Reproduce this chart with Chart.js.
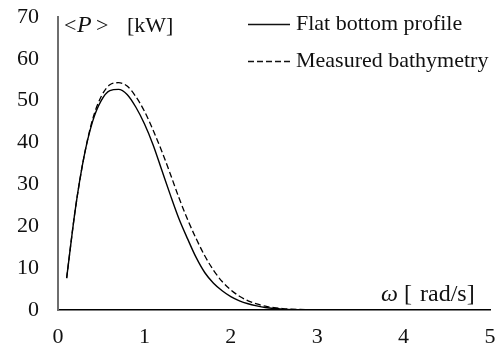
<!DOCTYPE html>
<html>
<head>
<meta charset="utf-8">
<script src="https://cdn.jsdelivr.net/npm/chart.js@4"></script>
<style>
  html, body { margin: 0; padding: 0; background: #fff; }
  #wrap { width: 498px; height: 350px; }
</style>
</head>
<body>
<div id="wrap"><canvas id="chart-power"></canvas></div>
<script>
// frequency [rad/s]
const omega = [0.1, 0.2, 0.3, 0.4, 0.5, 0.6, 0.7, 0.8, 0.9, 1.0,
  1.1, 1.2, 1.3, 1.4, 1.5, 1.6, 1.7, 1.8, 1.9, 2.0,
  2.1, 2.2, 2.3, 2.4, 2.5, 2.6, 2.8, 3.0, 3.5, 4.0];
// mean power [kW]
const flatBottom = [7.6, 24, 36.5, 45, 50, 52.4, 52.7, 51.5, 48.5, 44.5,
  39.5, 33.5, 27.5, 21.8, 17, 12.5, 8.9, 6.4, 4.6, 3.2,
  2.2, 1.5, 1.0, 0.6, 0.35, 0.2, 0.08, 0.04, 0.02, 0.01];
const measured = [7.6, 24, 36.5, 45.5, 51, 53.8, 54.3, 53.5, 51, 47.5,
  43, 38, 32.5, 26.8, 21.6, 17.0, 12.9, 9.5, 6.8, 4.8,
  3.3, 2.2, 1.45, 0.9, 0.55, 0.33, 0.12, 0.06, 0.03, 0.01];
const seriesNames = ["Flat bottom profile", "Measured bathymetry"];
const yTicks = [0, 10, 20, 30, 40, 50, 60, 70];
const xTicks = [0, 1, 2, 3, 4, 5];

const FONT = "Liberation Serif";
const toXY = (ys) => omega.map((x, i) => ({ x: x, y: ys[i] }));

function font(size, style) {
  return (style || "") + size + "px '" + FONT + "'";
}

// legend and axis titles sit inside the plot area, so draw them by hand
const annotations = {
  id: "annotations",
  afterDraw(chart) {
    const ctx = chart.ctx;
    ctx.save();
    ctx.fillStyle = "#111";
    ctx.strokeStyle = "#111";
    ctx.textBaseline = "alphabetic";

    // legend
    const rows = [30, 67];
    chart.data.datasets.forEach((ds, i) => {
      const y = rows[i] - 5.5;
      ctx.lineWidth = 1.3;
      ctx.setLineDash(ds.borderDash || []);
      ctx.beginPath();
      ctx.moveTo(248, y);
      ctx.lineTo(290, y);
      ctx.stroke();
      ctx.setLineDash([]);
      ctx.font = font(22);
      ctx.fillText(ds.label, 296, rows[i]);
    });

    // y title: <P> [kW]
    const yb = 32;
    ctx.font = font(22);
    ctx.fillText("<", 64, yb);
    ctx.font = font(24, "italic ");
    ctx.fillText("P", 77, yb);
    ctx.font = font(22);
    ctx.fillText(">", 96, yb);
    ctx.fillText("[kW]", 127, yb);

    // x title: ω [ rad/s]
    const xb = 301;
    ctx.font = font(24, "italic ");
    ctx.fillText("ω", 381, xb);
    ctx.font = font(24);
    ctx.fillText("[", 404, xb);
    ctx.fillText("rad/s]", 420, xb);
    ctx.restore();
  }
};

const ctx = document.getElementById("chart-power").getContext("2d");
new Chart(ctx, {
  type: "line",
  data: {
    datasets: [
      {
        label: seriesNames[0],
        data: toXY(flatBottom),
        borderColor: "#000",
        borderWidth: 1.4,
        pointRadius: 0,
        cubicInterpolationMode: "monotone",
        fill: false
      },
      {
        label: seriesNames[1],
        data: toXY(measured),
        borderColor: "#000",
        borderWidth: 1.3,
        borderDash: [6, 3],
        pointRadius: 0,
        cubicInterpolationMode: "monotone",
        fill: false
      }
    ]
  },
  options: {
    responsive: true,
    maintainAspectRatio: false,
    animation: false,
    layout: { padding: { left: 0, right: 8, top: 17, bottom: 0 } },
    plugins: {
      legend: { display: false },
      tooltip: { enabled: false }
    },
    scales: {
      x: {
        type: "linear",
        min: xTicks[0],
        max: xTicks[xTicks.length - 1],
        afterBuildTicks: (s) => { s.ticks = xTicks.map((v) => ({ value: v })); },
        afterFit: (s) => { s.height = 40; s.paddingLeft = 0; s.paddingRight = 0; },
        grid: { display: false, drawTicks: false },
        border: { display: true, color: "#000", width: 1.5 },
        ticks: {
          padding: 14,
          color: "#111",
          font: { family: FONT, size: 22 },
          maxRotation: 0
        }
      },
      y: {
        min: yTicks[0],
        max: yTicks[yTicks.length - 1],
        afterBuildTicks: (s) => { s.ticks = yTicks.map((v) => ({ value: v })); },
        afterFit: (s) => { s.width = 58; s.paddingTop = 0; s.paddingBottom = 0; },
        grid: { display: false, drawTicks: false },
        border: { display: true, color: "#6e6e6e", width: 2 },
        ticks: {
          padding: 19,
          color: "#111",
          font: { family: FONT, size: 22 }
        }
      }
    }
  },
  plugins: [annotations]
});
</script>
</body>
</html>
